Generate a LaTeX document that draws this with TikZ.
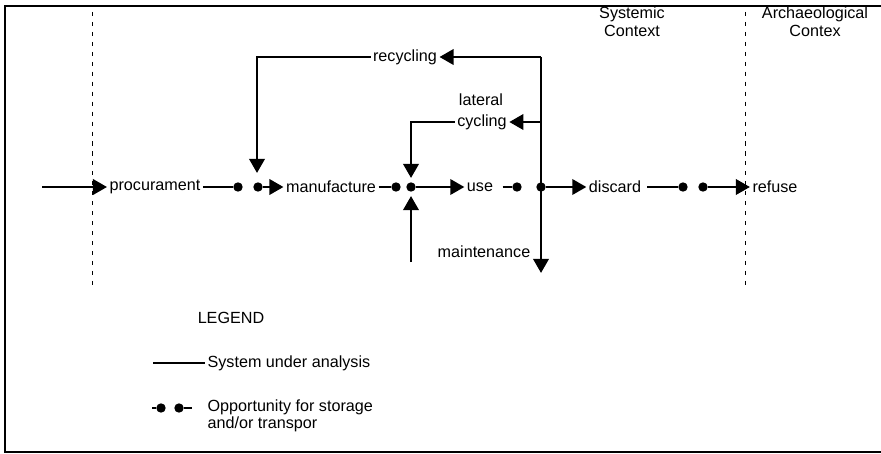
\documentclass[tikz,border=0pt]{standalone}
\usepackage{fontspec}
\setmainfont{Liberation Sans}
\usepackage{tikz}
\usetikzlibrary{arrows.meta, positioning}

\begin{document}
\begin{tikzpicture}[x=0.03cm, y=-0.03cm,
  font=\fontsize{13.8}{15}\selectfont, inner sep=2pt,
  link/.style={line width=2.4pt},
  flow/.style={link, -{Triangle[length=12pt,width=13pt]}},
  stop/.style={circle, fill, inner sep=0pt, minimum size=8},
  border/.style={dash pattern=on 3.5pt off 5pt, line width=.7pt}]
\useasboundingbox (0,0) rectangle (881,453);
\draw[line width=1.2pt] (881,6) -- (5,6) -- (5,452) -- (881,452);

% context boundaries
\draw[border] (92,12) -- (92,286);
\draw[border] (745,12) -- (745,286);
\node[align=center] (sys) at (632,22) {Systemic\\Context};
\node[align=center] (arch) at (815,22) {Archaeological\\Contex};

% stages
\node (proc) at (155,187) {procurament};
\node (manu) at (331,187) {manufacture};
\node (use) at (480,187) {use};
\node (disc) at (615,187) {discard};
\node (ref) at (775,187) {refuse};
\node (recy) at (405,57) {recycling};
\node (lat) at (481,100) {lateral};
\node (cyc) at (482,122) {cycling};
\node (maint) at (484,252) {maintenance};

\coordinate (in) at (42,187);
\node[stop] (d1) at (238,187) {};
\node[stop] (d2) at (258,187) {};
\node[stop] (d3) at (396,187) {};
\node[stop] (j1) at (411,187) {};
\node[stop] (d5) at (517,187) {};
\node[stop] (j2) at (541,187) {};
\node[stop] (d7) at (683,187) {};
\node[stop] (d8) at (703,187) {};
\coordinate (ctop) at (541,57);
\coordinate (cmid) at (541,122);
\coordinate (cbot) at (541,273);
\coordinate (rin) at (257,173);
\coordinate (lin) at (411,178);
\coordinate (mfrom) at (411,262);
\coordinate (min) at (411,196);

% main flow
\draw[flow] (in) -- (proc.west);
\draw[link] (proc.east) -- (d1);
\draw[flow] (d2) -- (manu.west);
\draw[link] (manu.east) -- (d3);
\draw[flow] (j1) -- (use.west);
\draw[link] ([xshift=6]use.east) -- (d5);
\draw[flow] (j2) -- (disc.west);
\draw[link] ([xshift=3]disc.east) -- (d7);
\draw[flow] (d8) -- (ref.west);

% cycles
\draw[flow] (ctop) -- (cbot);
\draw[flow] (ctop) -- (recy.east);
\draw[flow] (recy.west) -| (rin);
\draw[flow] (cmid) -- (cyc.east);
\draw[flow] (cyc.west) -| (lin);
\draw[flow] (mfrom) -- (min);

% legend
\node (leg) at (231,318) {LEGEND};
\node[anchor=west] (lsys) at (205,363) {System under analysis};
\node[anchor=west, align=left] (lopp) at (205,416) {Opportunity for storage\\and/or transpor};
\draw[link, line width=1.8pt] (153,363) -- (lsys.west);
\node[stop] (ld1) at (161,408) {};
\node[stop] (ld2) at (179,408) {};
\draw[link] (152,408) -- (ld1);
\draw[link] (ld2) -- (192,408);
\end{tikzpicture}
\end{document}
